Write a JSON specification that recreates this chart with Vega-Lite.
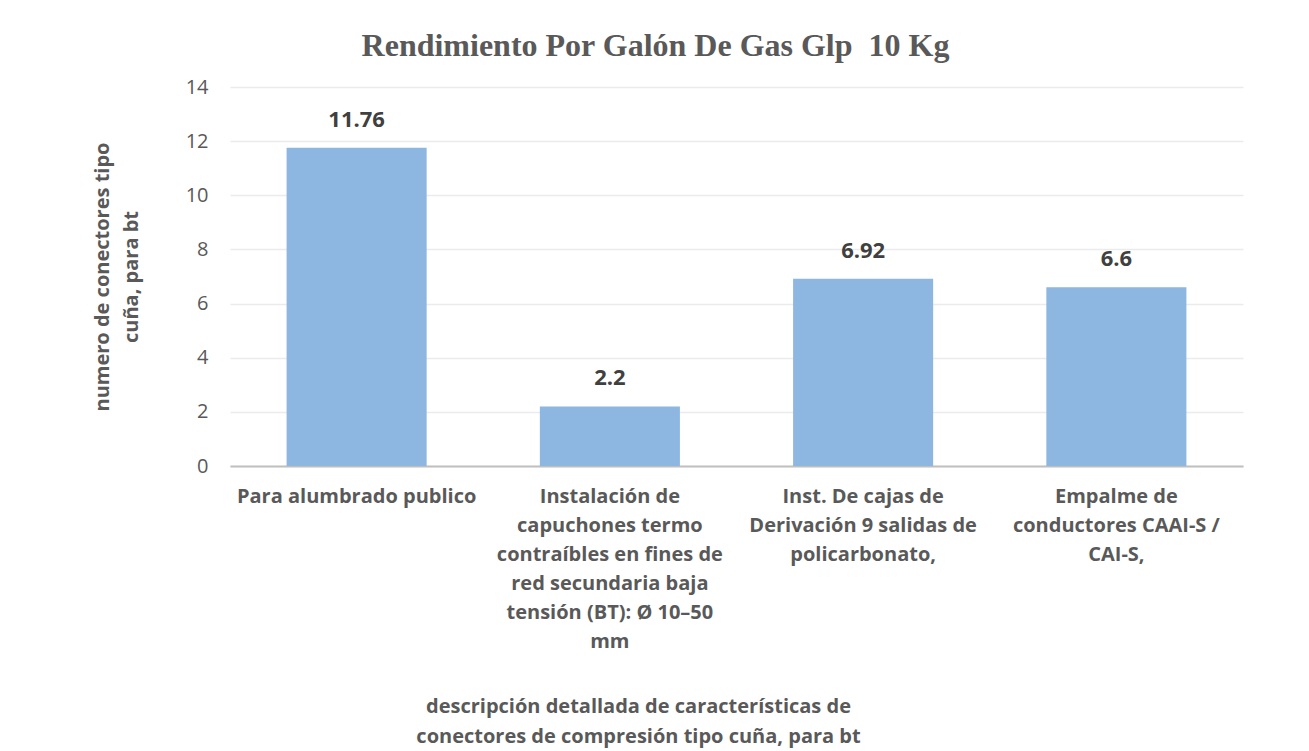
{
  "$schema": "https://vega.github.io/schema/vega-lite/v6.json",
  "autosize": "none",
  "padding": {"left": 230, "top": 87, "right": 66, "bottom": 285},
  "width": 1013,
  "height": 379,
  "background": "white",
  "title": {
    "text": "Rendimiento Por Galón De Gas Glp \u00a010 Kg",
    "font": "Liberation Serif",
    "fontSize": 32,
    "fontWeight": "bold",
    "color": "#595959",
    "anchor": "middle",
    "dx": -81,
    "offset": 14
  },
  "data": {
    "values": [
      {"cat": "Para alumbrado publico", "val": 11.76},
      {"cat": "Instalación de\ncapuchones termo\ncontraíbles en fines de\nred secundaria baja\ntensión (BT): Ø 10–50\nmm", "val": 2.2},
      {"cat": "Inst. De cajas de\nDerivación 9 salidas de\npolicarbonato,", "val": 6.92},
      {"cat": "Empalme de\nconductores CAAI-S /\nCAI-S,", "val": 6.6}
    ]
  },
  "encoding": {
    "x": {
      "field": "cat",
      "type": "nominal",
      "sort": null,
      "scale": {"paddingInner": 0.447, "paddingOuter": 0.2235},
      "axis": {
        "title": ["descripción detallada de características de", "conectores de compresión tipo cuña, para bt"],
        "titleFont": "Open Sans",
        "titleFontSize": 20,
        "titleFontWeight": "bold",
        "titleColor": "#595959",
        "titleX": 408,
        "titleY": 230,
        "titleBaseline": "top",
        "titleLineHeight": 30,
        "labelAngle": 0,
        "labelExpr": "split(datum.label, '\\n')",
        "labelFont": "Open Sans",
        "labelFontSize": 20,
        "labelFontWeight": "bold",
        "labelColor": "#595959",
        "labelLineHeight": 29,
        "labelPadding": 20,
        "labelLimit": 400,
        "ticks": false,
        "domainColor": "#bfbfbf",
        "domainWidth": 2
      }
    },
    "y": {
      "field": "val",
      "type": "quantitative",
      "scale": {"domain": [0, 14]},
      "axis": {
        "values": [0, 2, 4, 6, 8, 10, 12, 14],
        "title": ["numero de conectores tipo", "cuña, para bt"],
        "titleFont": "Open Sans",
        "titleFontSize": 20,
        "titleFontWeight": "bold",
        "titleColor": "#595959",
        "titleX": -128,
        "titleLineHeight": 29,
        "titleBaseline": "middle",
        "labelFont": "Open Sans",
        "labelFontSize": 20,
        "labelColor": "#595959",
        "labelPadding": 22,
        "ticks": false,
        "domain": false,
        "gridColor": "#ebebeb",
        "gridWidth": 1.5
      }
    }
  },
  "layer": [
    {"mark": {"type": "bar", "color": "#8DB6E1"}},
    {
      "mark": {"type": "text", "dy": -16, "baseline": "bottom", "font": "Open Sans", "fontSize": 22, "fontWeight": "bold", "color": "#404040"},
      "encoding": {"text": {"field": "val", "type": "quantitative"}}
    }
  ],
  "config": {"view": {"stroke": null}}
}
